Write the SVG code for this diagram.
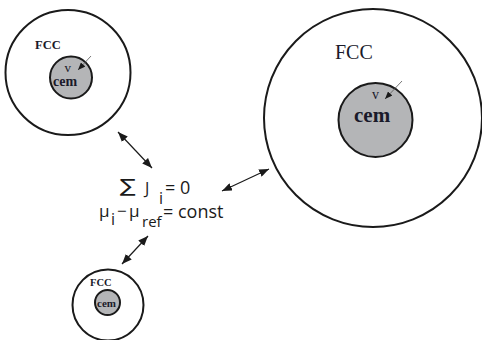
<svg xmlns="http://www.w3.org/2000/svg" width="482" height="340" viewBox="0 0 482 340">
<defs>
<marker id="ah" viewBox="0 0 10 8" refX="10" refY="4" markerWidth="10" markerHeight="8" markerUnits="userSpaceOnUse" orient="auto-start-reverse">
<path d="M0,0 L10,4 L0,8 z" fill="#1a1a1a"/>
</marker>
<marker id="ahs" viewBox="0 0 10 8" refX="10" refY="4" markerWidth="8" markerHeight="6" markerUnits="userSpaceOnUse" orient="auto">
<path d="M0,0 L10,4 L0,8 z" fill="#1a1a1a"/>
</marker>
</defs>
<style>
.outer{fill:#fff;stroke:#1a1a1a;stroke-width:2}
.inner{fill:#b4b5b7;stroke:#1a1a1a;stroke-width:2}
.ser{font-family:"Liberation Serif","DejaVu Serif",serif;fill:#1a1a2a}
.b{font-weight:bold}
.sans{font-family:"Open Sans","Liberation Sans",sans-serif;fill:#1a1a1a}
.conn{stroke:#1a1a1a;stroke-width:1.2;fill:none}
.thin{stroke:#555;stroke-width:0.8;fill:none}
</style>
<rect width="482" height="340" fill="#fff"/>
<g id="grain-small-top">
<circle class="outer" cx="68" cy="72.5" r="62.5"/>
<circle class="inner" cx="71" cy="77.5" r="21"/>
<text class="ser b" x="35" y="49" font-size="12.5">FCC</text>
<text class="ser" x="64.5" y="72" font-size="13">v</text>
<text class="ser b" x="53" y="86" font-size="14">cem</text>
<line class="thin" x1="91" y1="56" x2="78" y2="70" marker-end="url(#ahs)"/>
</g>
<g id="grain-large">
<circle class="outer" cx="373" cy="118" r="109"/>
<circle class="inner" cx="375.5" cy="120" r="37"/>
<text class="ser" x="335" y="59" font-size="20">FCC</text>
<text class="ser" x="372" y="99" font-size="14">v</text>
<text class="ser b" x="354" y="121.5" font-size="21">cem</text>
<line class="thin" x1="402" y1="81" x2="385" y2="99" marker-end="url(#ahs)"/>
</g>
<g id="grain-small-bottom">
<circle class="outer" cx="108" cy="305" r="35.5"/>
<circle class="inner" cx="107.5" cy="302.5" r="12.5"/>
<text class="ser b" x="90" y="286" font-size="10.5">FCC</text>
<text class="ser b" x="97" y="306.5" font-size="11">cem</text>
</g>
<g id="equations">
<text x="92.3" y="192.5" font-size="18" font-family="DejaVu Sans, sans-serif" fill="#1a1a1a" transform="scale(1.3,1)">∑</text>
<text class="sans" x="145" y="194" font-size="16">J</text>
<text class="sans" x="159" y="204" font-size="16">i</text>
<text class="sans" x="165" y="194" font-size="18">= 0</text>
<text class="sans" x="99" y="217" font-size="17">μ</text>
<text class="sans" x="111" y="225" font-size="16">i</text>
<text class="sans" x="117" y="217" font-size="17">−</text>
<text class="sans" x="129" y="217" font-size="17">μ</text>
<text class="sans" x="142" y="227" font-size="15">ref</text>
<text class="sans" x="163" y="218" font-size="18">= const</text>
</g>
<g id="connectors">
<line class="conn" x1="118" y1="132" x2="152" y2="168" marker-start="url(#ah)" marker-end="url(#ah)"/>
<line class="conn" x1="222" y1="191" x2="269" y2="169" marker-start="url(#ah)" marker-end="url(#ah)"/>
<line class="conn" x1="122" y1="264" x2="148" y2="236" marker-start="url(#ah)" marker-end="url(#ah)"/>
</g>
</svg>
